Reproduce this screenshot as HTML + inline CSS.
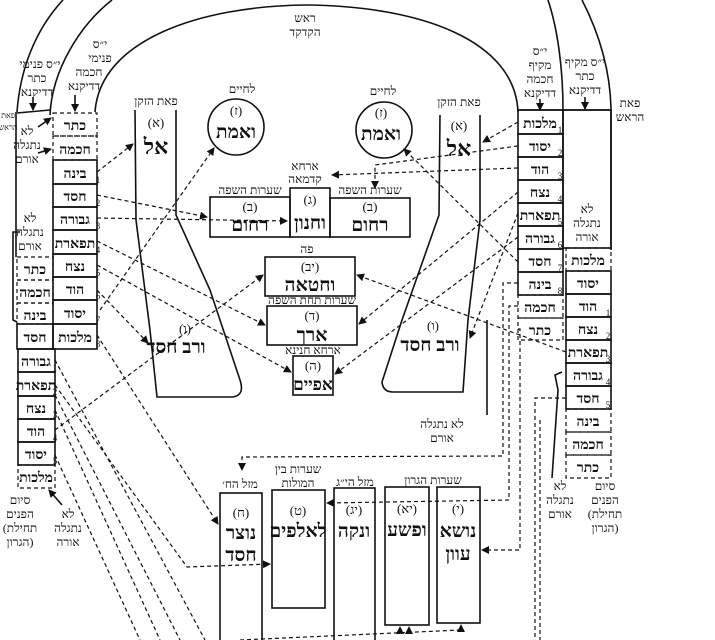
<!DOCTYPE html>
<html><head><meta charset="utf-8"><style>
html,body{margin:0;padding:0;background:#fff}
svg{display:block}
text{font-family:"Liberation Serif","DejaVu Serif",serif;fill:#111;text-anchor:middle}
.s{font-size:12px}
.m{font-size:14px;font-weight:bold}
.p{font-size:13px}
.l{font-size:19px;font-weight:bold}
.n{font-size:9px;text-anchor:start}
.sl{stroke:#111;stroke-width:1.6;fill:none}
.d{stroke:#111;stroke-width:1.2;fill:none;stroke-dasharray:4,3}
</style></head><body>
<svg width="715" height="640" viewBox="0 0 715 640" xmlns="http://www.w3.org/2000/svg">
<defs><marker id="a" markerWidth="8" markerHeight="8" refX="7" refY="4" orient="auto" markerUnits="userSpaceOnUse"><path d="M0,0L8,4L0,8z" fill="#111"/></marker></defs>
<rect width="715" height="640" fill="#fff"/>
<path class="sl" d="M95,112 C100,40 200,6 306,5 C420,6 515,40 518,112"/>
<path class="sl" d="M50,115 C52,70 80,25 112,0"/>
<path class="sl" d="M548,0 C558,30 563,70 563,110"/>
<path class="sl" d="M17,112 C20,70 35,30 63,0"/>
<path class="sl" d="M582,0 C600,35 610,70 611,108 L611,250"/>
<path class="sl" d="M16,112 L16,257"/>
<line class="sl" x1="17" y1="113" x2="50" y2="110"/>
<line class="sl" x1="518" y1="110" x2="611" y2="110"/>
<text class="s" x="305" y="22">ראש</text><text class="s" x="305" y="36">הקדקד</text>
<text class="s" x="40" y="68">י״ס פנימי</text><text class="s" x="37" y="82">כתר</text><text class="s" x="37" y="96">דדיקנא</text>
<text class="s" x="100" y="48">י״ס</text><text class="s" x="100" y="62">פנימי</text><text class="s" x="89" y="76">חכמה</text><text class="s" x="84" y="90">דדיקנא</text>
<text class="s" x="540" y="55">י״ס</text><text class="s" x="540" y="69">מקיף</text><text class="s" x="540" y="83">חכמה</text><text class="s" x="540" y="97">דדיקנא</text>
<text class="s" x="585" y="66">י״ס מקיף</text><text class="s" x="585" y="80">כתר</text><text class="s" x="585" y="94">דדיקנא</text>
<text class="s" x="630" y="107">פאת</text><text class="s" x="630" y="121">הראש</text>
<text x="8" y="118" style="font-size:8px">פאת</text><text x="8" y="130" style="font-size:8px">הראש</text>
<line class="sl" x1="33" y1="97" x2="33" y2="110" marker-end="url(#a)"/>
<line class="sl" x1="75" y1="95" x2="75" y2="111" marker-end="url(#a)"/>
<line class="sl" x1="540" y1="99" x2="540" y2="110" marker-end="url(#a)"/>
<line class="sl" x1="585" y1="97" x2="585" y2="109" marker-end="url(#a)"/>
<g class="m">
<rect class="d" x="53" y="113" width="44" height="23"/><text x="75" y="130">כתר</text>
<rect class="d" x="53" y="136" width="44" height="24"/><text x="75" y="154">חכמה</text>
<rect class="sl" x="53" y="160" width="44" height="24"/><text x="75" y="178">בינה</text>
<rect class="sl" x="53" y="184" width="44" height="23"/><text x="75" y="201">חסד</text>
<rect class="sl" x="53" y="207" width="44" height="23"/><text x="75" y="224">גבורה</text>
<rect class="sl" x="53" y="230" width="44" height="24"/><text x="75" y="248">תפארת</text>
<rect class="sl" x="53" y="254" width="44" height="23"/><text x="75" y="271">נצח</text>
<rect class="sl" x="53" y="277" width="44" height="23"/><text x="75" y="294">הוד</text>
<rect class="sl" x="53" y="300" width="44" height="24"/><text x="75" y="318">יסוד</text>
<rect class="sl" x="53" y="324" width="44" height="25"/><text x="75" y="342">מלכות</text>
<rect class="d" x="17" y="257" width="36" height="23"/><text x="35" y="274">כתר</text>
<rect class="d" x="17" y="280" width="36" height="23"/><text x="35" y="297">חכמה</text>
<rect class="d" x="17" y="303" width="36" height="21"/><text x="35" y="320">בינה</text>
<rect class="sl" x="17" y="324" width="36" height="25"/><text x="35" y="342">חסד</text>
<rect class="sl" x="18" y="349" width="37" height="23"/><text x="36" y="366">גבורה</text>
<rect class="sl" x="18" y="372" width="37" height="24"/><text x="36" y="390">תפארת</text>
<rect class="sl" x="18" y="396" width="37" height="23"/><text x="36" y="413">נצח</text>
<rect class="sl" x="18" y="419" width="37" height="23"/><text x="36" y="436">הוד</text>
<rect class="sl" x="18" y="442" width="37" height="23"/><text x="36" y="459">יסוד</text>
<rect class="d" x="18" y="465" width="37" height="23"/><text x="36" y="482">מלכות</text>
<rect class="sl" x="518" y="110" width="45" height="24"/><text x="540" y="128">מלכות</text>
<rect class="sl" x="518" y="134" width="45" height="23"/><text x="540" y="151">יסוד</text>
<rect class="sl" x="518" y="157" width="45" height="23"/><text x="540" y="174">הוד</text>
<rect class="sl" x="518" y="180" width="45" height="23"/><text x="540" y="197">נצח</text>
<rect class="sl" x="518" y="203" width="45" height="23"/><text x="540" y="220">תפארת</text>
<rect class="sl" x="518" y="226" width="45" height="23"/><text x="540" y="243">גבורה</text>
<rect class="sl" x="518" y="249" width="45" height="23"/><text x="540" y="266">חסד</text>
<rect class="sl" x="518" y="272" width="45" height="23"/><text x="540" y="289">בינה</text>
<rect class="d" x="518" y="295" width="45" height="23"/><text x="540" y="312">חכמה</text>
<rect class="d" x="518" y="318" width="45" height="22"/><text x="540" y="335">כתר</text>
<rect class="sl" x="563" y="110" width="48" height="138"/>
<rect class="d" x="566" y="248" width="45" height="23"/><text x="588" y="265">מלכות</text>
<rect class="sl" x="566" y="271" width="45" height="23"/><text x="588" y="288">יסוד</text>
<rect class="sl" x="566" y="294" width="45" height="23"/><text x="588" y="311">הוד</text>
<rect class="sl" x="566" y="317" width="45" height="23"/><text x="588" y="334">נצח</text>
<rect class="sl" x="566" y="340" width="45" height="23"/><text x="588" y="357">תפארת</text>
<rect class="sl" x="566" y="363" width="45" height="23"/><text x="588" y="380">גבורה</text>
<rect class="sl" x="566" y="386" width="45" height="23"/><text x="588" y="403">חסד</text>
<rect class="d" x="566" y="409" width="45" height="23"/><text x="588" y="426">בינה</text>
<rect class="d" x="566" y="432" width="45" height="23"/><text x="588" y="449">חכמה</text>
<rect class="d" x="566" y="455" width="45" height="23"/><text x="588" y="472">כתר</text>
</g>
<g class="n">
<text x="98" y="183">1</text><text x="98" y="206">2</text><text x="98" y="229">3</text><text x="98" y="253">4</text><text x="98" y="276">5</text><text x="98" y="299">6</text><text x="98" y="323">7</text><text x="98" y="347">8</text>
<text x="55" y="371">1</text><text x="55" y="395">2</text><text x="55" y="418">3</text><text x="55" y="441">4</text><text x="55" y="464">5</text>
<text x="560" y="133">1</text><text x="560" y="156">2</text><text x="560" y="179">3</text><text x="560" y="202">4</text><text x="560" y="225">5</text><text x="560" y="248">6</text><text x="560" y="271">7</text><text x="560" y="294">8</text>
<text x="608" y="316">1</text><text x="608" y="339">2</text><text x="608" y="362">3</text><text x="608" y="385">4</text><text x="608" y="408">5</text>
</g>
<g class="s">
<text x="27" y="135">לא</text><text x="27" y="149">נתגלה</text><text x="27" y="163">אורם</text>
<text x="30" y="222">לא</text><text x="30" y="236">נתגלה</text><text x="30" y="250">אורם</text>
<text x="587" y="213">לא</text><text x="587" y="227">נתגלה</text><text x="587" y="241">אורה</text>
<text x="20" y="504">סיום</text><text x="20" y="518">הפנים</text><text x="20" y="532">(תחילת</text><text x="20" y="546">הגרון)</text>
<text x="68" y="518">לא</text><text x="68" y="532">נתגלה</text><text x="68" y="546">אורה</text>
<text x="560" y="490">לא</text><text x="560" y="504">נתגלה</text><text x="560" y="518">אורם</text>
<text x="605" y="490">סיום</text><text x="605" y="504">הפנים</text><text x="605" y="518">(תחילת</text><text x="605" y="532">הגרון)</text>
<text x="442" y="428">לא נתגלה</text><text x="442" y="442">אורם</text>
</g>
<line class="sl" x1="38" y1="127" x2="51" y2="118" marker-end="url(#a)"/>
<line class="sl" x1="38" y1="153" x2="51" y2="149" marker-end="url(#a)"/>
<path class="sl" d="M20,232 L13,232 L13,320 L17,322"/>
<line class="sl" x1="62" y1="505" x2="49" y2="490" marker-end="url(#a)"/>
<path class="sl" d="M552,478 L558,390 L555,375 L562,372"/>
<path class="sl" d="M487,320 L487,415"/>
<path class="sl" d="M135,110 L136,220 L150,330 L157,397 L233,397 Q245,395 240,380 L210,290 L176,215 L176,110"/>
<path class="sl" d="M440,115 L439,215 L402,320 L382,382 Q383,392 393,392 L463,392 L468,320 L480,220 L480,115"/>
<text class="s" x="156" y="105">פאת הזקן</text><text class="p" x="156" y="127">(א)</text><text class="l" x="156" y="154" style="font-size:22px">אל</text>
<text class="s" x="459" y="106">פאת הזקן</text><text class="p" x="459" y="130">(א)</text><text class="l" x="459" y="156" style="font-size:22px">אל</text>
<text class="p" x="185" y="333">(ו)</text><text class="l" x="176" y="353">ורב חסד</text>
<text class="p" x="433" y="330">(ו)</text><text class="l" x="430" y="351">ורב חסד</text>
<text class="s" x="242" y="93">לחיים</text>
<circle class="sl" cx="236" cy="127" r="28"/><text class="p" x="236" y="115">(ז)</text><text class="l" x="236" y="138">ואמת</text>
<text class="s" x="383" y="95">לחיים</text>
<circle class="sl" cx="384" cy="130" r="28"/><text class="p" x="381" y="117">(ז)</text><text class="l" x="381" y="140">ואמת</text>
<text class="s" x="305" y="170">ארחא</text><text class="s" x="305" y="183">קדמאה</text>
<text class="s" x="250" y="194">שערות השפה</text><text class="s" x="370" y="194">שערות השפה</text>
<rect class="sl" x="210" y="197" width="80" height="40"/><text class="p" x="250" y="211">(ב)</text><text class="l" x="250" y="231">רחום</text>
<rect class="sl" x="290" y="188" width="40" height="49"/><text class="p" x="310" y="204">(ג)</text><text class="l" x="310" y="229">וחנון</text>
<rect class="sl" x="330" y="198" width="80" height="39"/><text class="p" x="370" y="211">(ב)</text><text class="l" x="370" y="231">רחום</text>
<text class="s" x="307" y="253">פה</text>
<rect class="sl" x="265" y="257" width="90" height="39"/><text class="p" x="310" y="271">(יב)</text><text class="l" x="310" y="291">וחטאה</text>
<text class="s" x="312" y="304">שערות תחת השפה</text>
<rect class="sl" x="267" y="306" width="90" height="39"/><text class="p" x="312" y="320">(ד)</text><text class="l" x="312" y="341">ארך</text>
<text class="s" x="313" y="354">ארחא חנינא</text>
<rect class="sl" x="293" y="356" width="40" height="39"/><text class="p" x="313" y="370">(ה)</text><text class="l" x="313" y="390" style="font-size:17px">אפיים</text>
<text class="s" x="240" y="488">מזל הח׳</text>
<rect class="sl" x="220" y="493" width="42" height="150"/><text class="p" x="241" y="517">(ח)</text><text class="l" x="241" y="539">נוצר</text><text class="l" x="241" y="561">חסד</text>
<text class="s" x="298" y="473">שערות בין</text><text class="s" x="298" y="487">המולות</text>
<rect class="sl" x="272" y="490" width="53" height="118"/><text class="p" x="298" y="515">(ט)</text><text class="l" x="298" y="537">לאלפים</text>
<text class="s" x="355" y="486">מזל הי״ג</text>
<rect class="sl" x="334" y="488" width="41" height="155"/><text class="p" x="354" y="514">(יג)</text><text class="l" x="354" y="537">ונקה</text>
<text class="s" x="433" y="484">שערות הגרון</text>
<rect class="sl" x="385" y="487" width="44" height="138"/><text class="p" x="407" y="513">(יא)</text><text class="l" x="407" y="536">ופשע</text>
<rect class="sl" x="437" y="487" width="43" height="136"/><text class="p" x="458" y="513">(י)</text><text class="l" x="458" y="537">נושא</text><text class="l" x="458" y="560">עוון</text>
<line class="d" x1="97" y1="172" x2="133" y2="144" marker-end="url(#a)"/>
<line class="d" x1="97" y1="195" x2="207" y2="217" marker-end="url(#a)"/>
<line class="d" x1="97" y1="218" x2="287" y2="221" marker-end="url(#a)"/>
<line class="d" x1="97" y1="241" x2="265" y2="325" marker-end="url(#a)"/>
<line class="d" x1="97" y1="265" x2="291" y2="372" marker-end="url(#a)"/>
<line class="d" x1="97" y1="290" x2="148" y2="343" marker-end="url(#a)"/>
<line class="d" x1="100" y1="310" x2="214" y2="148" marker-end="url(#a)"/>
<line class="d" x1="97" y1="335" x2="218" y2="524" marker-end="url(#a)"/>
<line class="d" x1="55" y1="430" x2="263" y2="275" marker-end="url(#a)"/>
<path class="d" d="M55,385 L187,567 L270,564" marker-end="url(#a)"/>
<line class="d" x1="55" y1="360" x2="205" y2="640"/>
<line class="d" x1="55" y1="395" x2="180" y2="640"/>
<line class="d" x1="55" y1="410" x2="160" y2="640"/>
<line class="d" x1="55" y1="455" x2="140" y2="640"/>
<line class="d" x1="518" y1="122" x2="483" y2="142" marker-end="url(#a)"/>
<path class="d" d="M518,146 L375,165 L375,188" marker-end="url(#a)"/>
<line class="d" x1="518" y1="168" x2="332" y2="175" marker-end="url(#a)"/>
<line class="d" x1="518" y1="192" x2="359" y2="324" marker-end="url(#a)"/>
<line class="d" x1="518" y1="213" x2="470" y2="338" marker-end="url(#a)"/>
<line class="d" x1="518" y1="237" x2="335" y2="374" marker-end="url(#a)"/>
<line class="d" x1="518" y1="262" x2="404" y2="149" marker-end="url(#a)"/>
<line class="d" x1="566" y1="352" x2="357" y2="275" marker-end="url(#a)"/>
<path class="d" d="M518,283 L503,283 L503,456 L242,457 L242,470" marker-end="url(#a)"/>
<path class="d" d="M518,306 L509,306 L509,500 L327,503" marker-end="url(#a)"/>
<path class="d" d="M518,329 L520,329 L520,550 L482,550" marker-end="url(#a)"/>
<path class="d" d="M566,398 L535,398 L535,640"/>
<line class="d" x1="540" y1="420" x2="540" y2="640"/>
<path class="d" d="M240,640 L460,630"/>
<path class="d" d="M400,632 L400,627" marker-end="url(#a)"/>
<path class="d" d="M409,632 L409,627" marker-end="url(#a)"/>
<path class="d" d="M461,632 L461,625" marker-end="url(#a)"/>
</svg>
</body></html>
